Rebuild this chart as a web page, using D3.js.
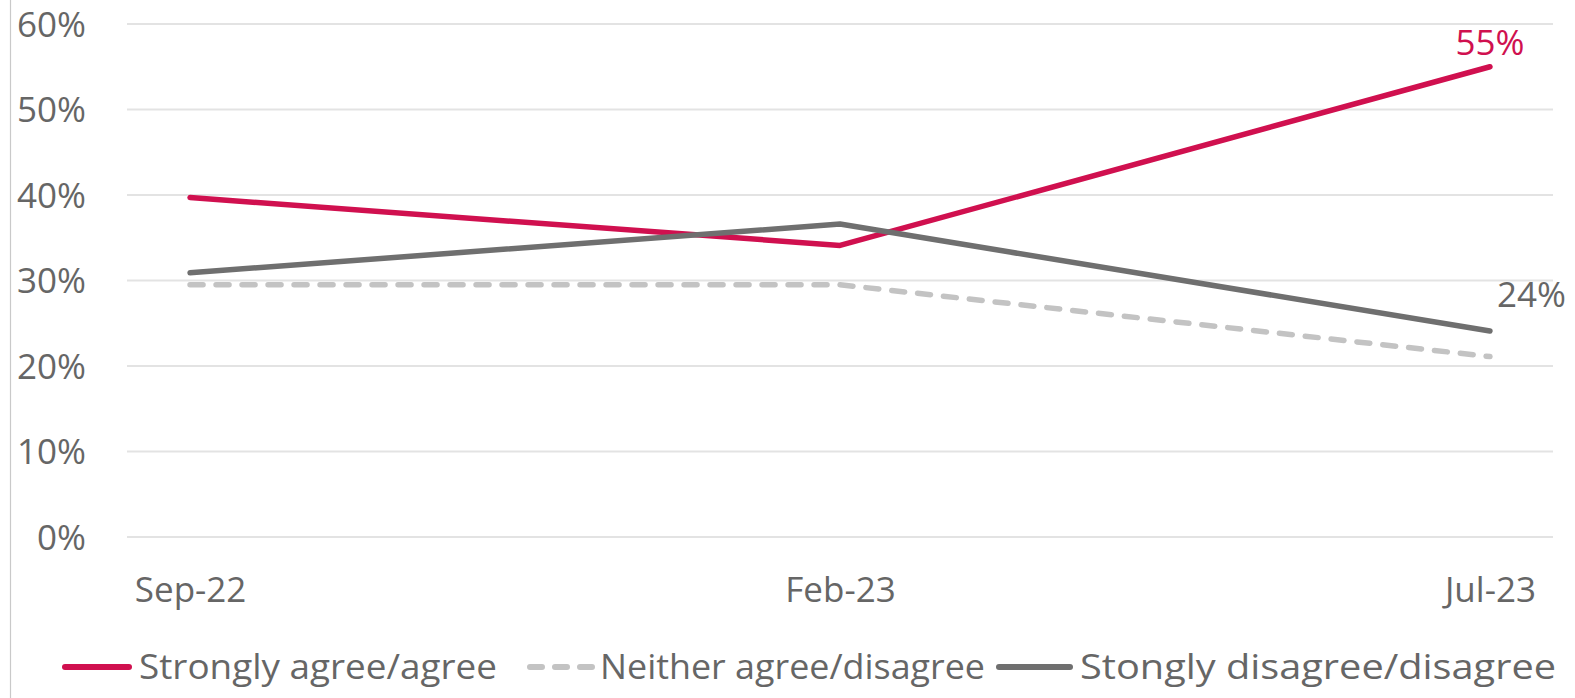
<!DOCTYPE html>
<html>
<head>
<meta charset="utf-8">
<script src="https://cdn.jsdelivr.net/npm/d3@7"></script>
<style>
html,body{margin:0;padding:0;background:#fff;}
svg{display:block;font-family:"Open Sans",sans-serif;}
</style>
</head>
<body>
<svg id="chart" width="1575" height="698"></svg>
<script>
const categories = ["Sep-22", "Feb-23", "Jul-23"];
const agree = [0.397, 0.341, 0.55];
const neither = [0.295, 0.295, 0.211];
const disagree = [0.309, 0.366, 0.241];
const yTicks = [0, 0.1, 0.2, 0.3, 0.4, 0.5, 0.6];
const seriesNames = ["Strongly agree/agree", "Neither agree/disagree", "Stongly disagree/disagree"];

const series = [
  {name: seriesNames[0], values: agree, color: "#D0104F", dash: null},
  {name: seriesNames[1], values: neither, color: "#C3C3C3", dash: "13,13"},
  {name: seriesNames[2], values: disagree, color: "#6F6F6F", dash: null}
];

const svg = d3.select("#chart");
const plotLeft = 127, plotRight = 1553, plotTop = 24, plotBottom = 537;

const x = d3.scalePoint().domain(categories).range([plotLeft, plotRight]).padding(0.097);
const y = d3.scaleLinear().domain([0, 0.6]).range([plotBottom, plotTop]);

// left border line
svg.append("line").attr("x1", 10.5).attr("x2", 10.5).attr("y1", 0).attr("y2", 698)
  .attr("stroke", "#c9c9c9").attr("stroke-width", 1.2);

// gridlines
svg.append("g").selectAll("line").data(yTicks).join("line")
  .attr("x1", plotLeft).attr("x2", plotRight)
  .attr("y1", d => y(d)).attr("y2", d => y(d))
  .attr("stroke", "#e3e3e3").attr("stroke-width", 2);

// y axis labels
const yAxis = d3.axisLeft(y).tickValues(yTicks).tickFormat(d3.format(".0%")).tickSize(0).tickPadding(0);
const gy = svg.append("g").attr("transform", "translate(86,0)").call(yAxis);
gy.select(".domain").remove();
gy.selectAll("text").attr("font-size", 35).attr("fill", "#666").attr("font-family", "Open Sans").attr("dy", "0.35em");

// x axis labels
const xAxis = d3.axisBottom(x).tickSize(0).tickPadding(0);
const gx = svg.append("g").attr("transform", "translate(0,605)").call(xAxis);
gx.select(".domain").remove();
gx.selectAll("text").attr("font-size", 35).attr("fill", "#666").attr("font-family", "Open Sans").attr("dy", "-0.1em").attr("y", 0);

// lines
const line = d3.line().x((d, i) => x(categories[i])).y(d => y(d));
series.forEach(s => {
  svg.append("path").datum(s.values)
    .attr("d", line)
    .attr("fill", "none")
    .attr("stroke", s.color)
    .attr("stroke-width", 5.5)
    .attr("stroke-linecap", "round")
    .attr("stroke-linejoin", "round")
    .attr("stroke-dasharray", s.dash);
});

// data labels
svg.append("text").attr("x", x("Jul-23")).attr("y", y(agree[2]) - 12)
  .attr("text-anchor", "middle").attr("font-size", 35).attr("fill", "#D0104F")
  .text(d3.format(".0%")(agree[2]));
svg.append("text").attr("x", x("Jul-23") + 7).attr("y", y(disagree[2]) - 24)
  .attr("text-anchor", "start").attr("font-size", 35).attr("fill", "#666")
  .text(d3.format(".0%")(disagree[2]));

// legend
const legendItems = [
  {s: series[0], x0: 62, x1: 132, tx: 139, tw: 358},
  {s: series[1], x0: 527, x1: 598, tx: 600, tw: 385},
  {s: series[2], x0: 996, x1: 1073, tx: 1080, tw: 476}
];
const ly = 667;
legendItems.forEach(it => {
  svg.append("line").attr("x1", it.x0 + 3).attr("x2", it.x1 - 3).attr("y1", ly).attr("y2", ly)
    .attr("stroke", it.s.color).attr("stroke-width", 6).attr("stroke-linecap", "round")
    .attr("stroke-dasharray", it.s.dash ? "12,13" : null);
  svg.append("text").attr("x", it.tx).attr("y", ly).attr("dy", "0.35em")
    .attr("font-size", 35).attr("fill", "#666")
    .attr("textLength", it.tw).attr("lengthAdjust", "spacingAndGlyphs")
    .text(it.s.name);
});
</script>
</body>
</html>
